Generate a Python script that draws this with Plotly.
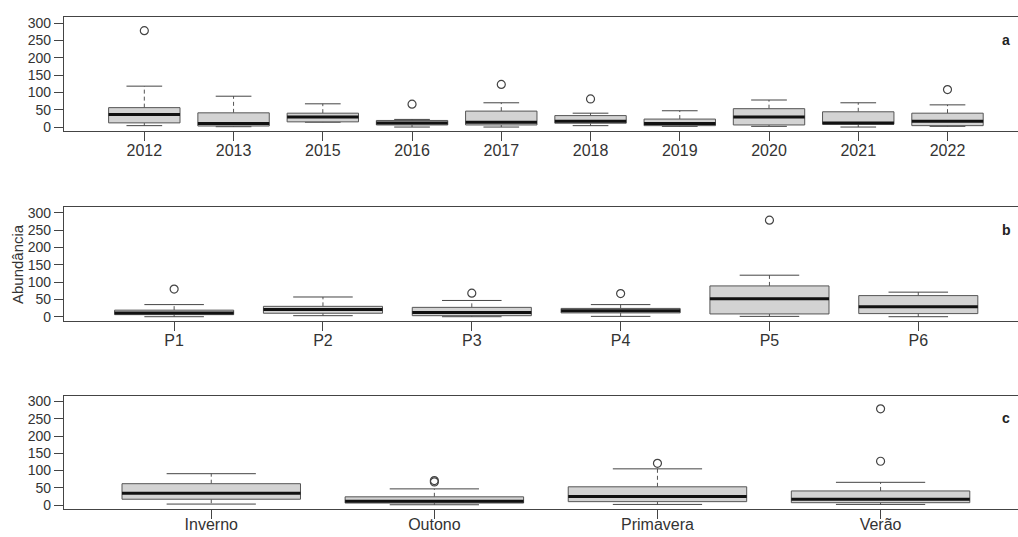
import plotly.graph_objects as go

# ---- data: abundance summaries (whisker low, Q1, median, Q3, whisker high, outliers)
years = ["2012", "2013", "2015", "2016", "2017", "2018", "2019", "2020", "2021", "2022"]
year_low = [4, 1, 14, 0, 0, 4, 2, 2, 0, 2]
year_q1 = [12, 3, 15, 6, 6, 11, 4, 6, 8, 4]
year_med = [36, 10, 29, 12, 14, 17, 10, 29, 12, 17]
year_q3 = [56, 41, 40, 19, 46, 33, 23, 53, 44, 40]
year_high = [118, 89, 67, 22, 70, 40, 47, 78, 70, 64]
year_out = [[278], [], [], [66], [123], [81], [], [], [], [108]]

sites = ["P1", "P2", "P3", "P4", "P5", "P6"]
site_low = [0, 3, 0, 1, 1, 0]
site_q1 = [6, 10, 3, 11, 8, 9]
site_med = [11, 21, 12, 17, 52, 29]
site_q3 = [19, 30, 27, 24, 89, 61]
site_high = [35, 57, 47, 35, 120, 71]
site_out = [[80], [], [68], [67], [279], []]

seasons = ["Inverno", "Outono", "Primavera", "Verão"]
season_low = [3, 1, 2, 2]
season_q1 = [17, 6, 10, 7]
season_med = [34, 11, 25, 17]
season_q3 = [62, 24, 53, 41]
season_high = [91, 47, 105, 66]
season_out = [[], [71, 67], [121], [279, 127]]

y_ticks = [0, 50, 100, 150, 200, 250, 300]

BOX_HALF = 0.4
CAP_HALF = 0.2
FONT = "Liberation Sans, Arial, sans-serif"

fig = go.Figure()


def add_panel(idx, labels, low, q1, med, q3, high, out, xrange, domain, letter,
              label_shift=-4):
    xa = "x" if idx == 1 else f"x{idx}"
    ya = "y" if idx == 1 else f"y{idx}"
    pos = list(range(1, len(labels) + 1))

    bx, by, mx, my, wx, wy, cx, cy, ox, oy = [], [], [], [], [], [], [], [], [], []
    for p, lo, a, m, b, hi, o in zip(pos, low, q1, med, q3, high, out):
        bx += [p - BOX_HALF, p + BOX_HALF, p + BOX_HALF, p - BOX_HALF, p - BOX_HALF, None]
        by += [a, a, b, b, a, None]
        mx += [p - BOX_HALF, p + BOX_HALF, None]
        my += [m, m, None]
        wx += [p, p, None, p, p, None]
        wy += [b, hi, None, a, lo, None]
        cx += [p - CAP_HALF, p + CAP_HALF, None, p - CAP_HALF, p + CAP_HALF, None]
        cy += [hi, hi, None, lo, lo, None]
        for v in o:
            ox.append(p)
            oy.append(v)

    common = dict(xaxis=xa, yaxis=ya, showlegend=False, hoverinfo="skip")
    fig.add_trace(go.Scatter(x=wx, y=wy, mode="lines",
                             line=dict(color="#555555", width=1, dash="4px,3px"), **common))
    fig.add_trace(go.Scatter(x=cx, y=cy, mode="lines",
                             line=dict(color="#444444", width=1), **common))
    fig.add_trace(go.Scatter(x=bx, y=by, mode="lines", fill="toself",
                             fillcolor="#d3d3d3",
                             line=dict(color="#555555", width=1), **common))
    fig.add_trace(go.Scatter(x=mx, y=my, mode="lines",
                             line=dict(color="#111111", width=3), **common))
    fig.add_trace(go.Scatter(x=ox, y=oy, mode="markers",
                             marker=dict(symbol="circle-open", size=8,
                                         color="#444444", line=dict(width=1.2)),
                             **common))

    fig.layout[("xaxis" if idx == 1 else f"xaxis{idx}")] = dict(
        domain=[0, 1], anchor=ya, range=xrange,
        tickmode="array", tickvals=pos, ticktext=labels,
        ticks="outside", ticklen=9, tickcolor="#444444", tickwidth=1,
        ticklabelstandoff=label_shift,
        showline=True, linecolor="#444444", linewidth=1.2, mirror=True,
        showgrid=False, zeroline=False, automargin=False, fixedrange=True,
        tickfont=dict(family=FONT, size=16, color="#333333"),
    )
    fig.layout[("yaxis" if idx == 1 else f"yaxis{idx}")] = dict(
        domain=domain, anchor=xa, range=[-11.5, 317],
        tickmode="array", tickvals=y_ticks,
        ticks="outside", ticklen=9, tickcolor="#444444", tickwidth=1,
        showline=True, linecolor="#444444", linewidth=1.2,
        showgrid=False, zeroline=False, automargin=False, fixedrange=True,
        tickfont=dict(family=FONT, size=14, color="#333333"),
    )
    fig.add_annotation(text=f"<b>{letter}</b>", xref="paper", yref="paper",
                       x=0.9875, y=domain[1] - 0.042, showarrow=False,
                       xanchor="center", yanchor="middle",
                       font=dict(family=FONT, size=14, color="#222222"))


add_panel(1, years, year_low, year_q1, year_med, year_q3, year_high, year_out,
          [0.1, 10.79], [0.756, 0.968], "a")
add_panel(2, sites, site_low, site_q1, site_med, site_q3, site_high, site_out,
          [0.26, 6.67], [0.4028, 0.6145], "b")
add_panel(3, seasons, season_low, season_q1, season_med, season_q3, season_high, season_out,
          [0.34, 4.616], [0.052, 0.2632], "c", label_shift=-8)

fig.add_annotation(text="Abundância", xref="paper", yref="paper",
                   x=-0.048, y=(0.4028 + 0.6145) / 2, textangle=-90,
                   showarrow=False, xanchor="center", yanchor="middle",
                   font=dict(family=FONT, size=15, color="#333333"))

fig.update_layout(
    width=1018, height=537,
    margin=dict(l=64, r=0, t=0, b=0),
    paper_bgcolor="white", plot_bgcolor="white",
    font=dict(family=FONT),
)

fig.write_html("out.html")
